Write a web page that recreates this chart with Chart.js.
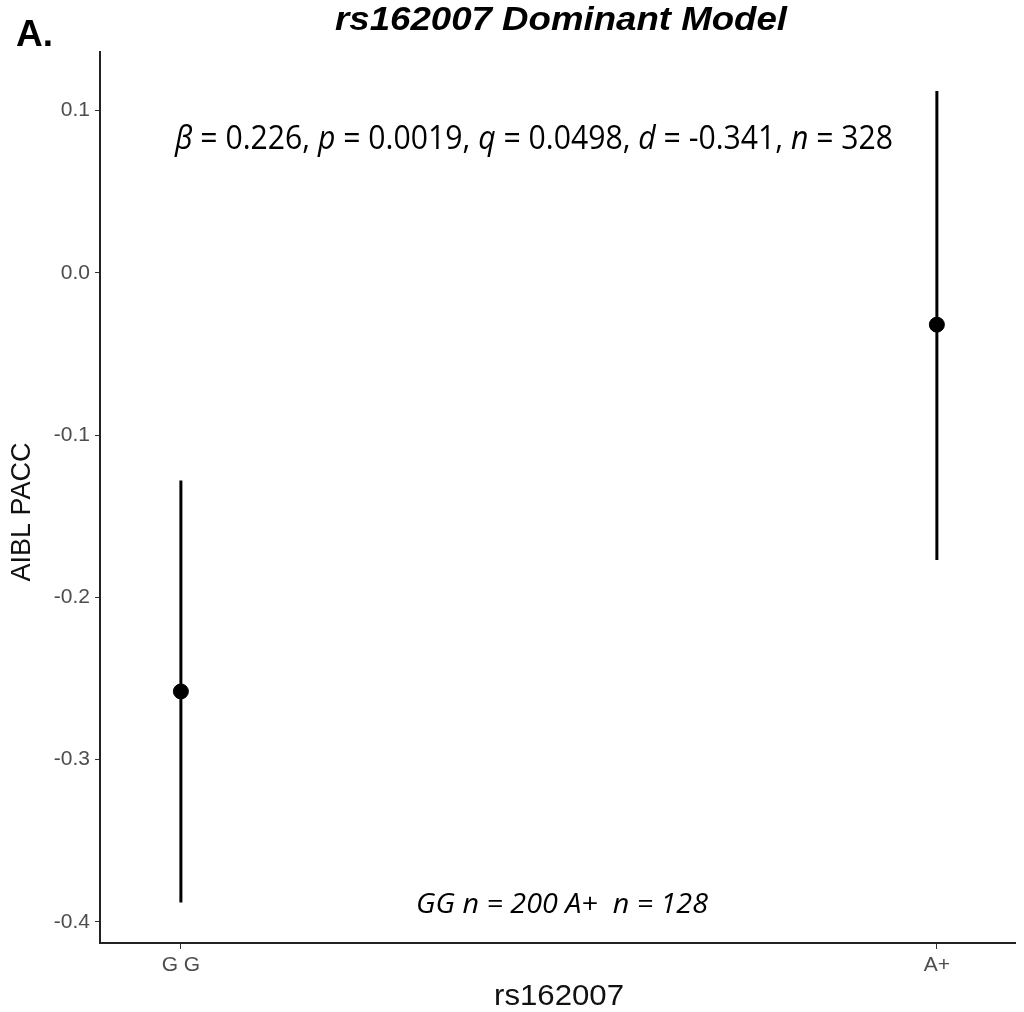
<!DOCTYPE html>
<html>
<head>
<meta charset="utf-8">
<script src="https://cdn.jsdelivr.net/npm/chart.js@4.4.0/dist/chart.umd.min.js"></script>
<style>
  html, body { margin: 0; padding: 0; background: #fff; }
  #wrap { width: 1024px; height: 1012px; }
</style>
</head>
<body>
<div id="wrap"><canvas id="chart" width="1024" height="1012"></canvas></div>
<script>
// data
const categories = ["G G", "A+"];
const means = [-0.258, -0.032];
const lower = [-0.388, -0.177];
const upper = [-0.128, 0.112];
const yTicks = [-0.4, -0.3, -0.2, -0.1, 0.0, 0.1];
const statParts = [
  ["β", true], [" = 0.226, ", false], ["p", true], [" = 0.0019, ", false],
  ["q", true], [" = 0.0498, ", false], ["d", true], [" = -0.341, ", false],
  ["n", true], [" = 328", false]
];
const countText = "GG n = 200 A+  n = 128";

const points = means.map((m, i) => ({ x: i, y: m }));

// draw text squeezed/stretched to a given width
function fitText(ctx, text, x, y, width) {
  const w = ctx.measureText(text).width;
  ctx.save();
  ctx.translate(x, y);
  ctx.scale(width / w, 1);
  ctx.fillText(text, 0, 0);
  ctx.restore();
}

// draws the vertical error bars and the text labels
const extras = {
  id: "extras",
  beforeDatasetsDraw(chart) {
    const { ctx, scales } = chart;
    ctx.save();
    ctx.strokeStyle = "#000";
    ctx.lineWidth = 3;
    for (let i = 0; i < means.length; i++) {
      const x = scales.x.getPixelForValue(i);
      ctx.beginPath();
      ctx.moveTo(x, scales.y.getPixelForValue(lower[i]));
      ctx.lineTo(x, scales.y.getPixelForValue(upper[i]));
      ctx.stroke();
    }
    ctx.restore();
  },
  afterDraw(chart) {
    const { ctx } = chart;
    ctx.save();
    ctx.fillStyle = "#000";
    ctx.textBaseline = "middle";
    ctx.textAlign = "left";

    // panel letter and title
    ctx.font = "bold 37px 'Liberation Sans', Arial, sans-serif";
    ctx.fillText("A.", 16, 36);
    ctx.font = "bold italic 33px 'Liberation Sans', Arial, sans-serif";
    fitText(ctx, "rs162007 Dominant Model", 335, 21, 452);

    // stats line, squeezed to the width seen in the figure
    const fam = "'Open Sans', 'DejaVu Sans', sans-serif";
    const size = 33;
    let total = 0;
    statParts.forEach(p => {
      ctx.font = (p[1] ? "italic " : "") + size + "px " + fam;
      total += ctx.measureText(p[0]).width;
    });
    ctx.translate(175, 140);
    ctx.scale(718 / total, 1);
    let x = 0;
    statParts.forEach(p => {
      ctx.font = (p[1] ? "italic " : "") + size + "px " + fam;
      ctx.fillText(p[0], x, 0);
      x += ctx.measureText(p[0]).width;
    });
    ctx.setTransform(1, 0, 0, 1, 0, 0);

    // group counts
    ctx.font = "italic 28px " + fam;
    fitText(ctx, countText, 416, 905, 292);

    // axis titles
    ctx.fillStyle = "#111";
    ctx.font = "29px 'Liberation Sans', Arial, sans-serif";
    fitText(ctx, "rs162007", 494, 997, 130);
    ctx.font = "27px 'Liberation Sans', Arial, sans-serif";
    ctx.textAlign = "center";
    ctx.translate(23, 512);
    ctx.rotate(-Math.PI / 2);
    ctx.fillText("AIBL PACC", 0, 0);
    ctx.restore();
  }
};

new Chart(document.getElementById("chart"), {
  type: "scatter",
  data: {
    datasets: [{
      data: points,
      backgroundColor: "#000",
      borderColor: "#000",
      pointRadius: 7.5,
      pointHoverRadius: 7.5
    }]
  },
  options: {
    responsive: false,
    animation: false,
    layout: { padding: { top: 52, right: 7, left: 0, bottom: 0 } },
    plugins: { legend: { display: false }, tooltip: { enabled: false } },
    scales: {
      x: {
        type: "linear",
        min: -0.107,
        max: 1.104,
        afterBuildTicks: s => { s.ticks = categories.map((c, i) => ({ value: i })); },
        afterFit: s => { s.height = 69; },
        grid: { drawOnChartArea: false, drawTicks: true, tickLength: 6, color: "#333" },
        border: { color: "#222", width: 2 },
        ticks: {
          color: "#4d4d4d",
          font: { size: 21, family: "'Liberation Sans', Arial, sans-serif" },
          padding: 4,
          maxRotation: 0,
          callback: v => categories[v]
        }
      },
      y: {
        min: -0.413,
        max: 0.136,
        afterBuildTicks: s => { s.ticks = yTicks.map(v => ({ value: v })); },
        afterFit: s => { s.width = 100; },
        grid: { drawOnChartArea: false, drawTicks: true, tickLength: 5, color: "#333" },
        border: { color: "#222", width: 2 },
        ticks: {
          color: "#4d4d4d",
          font: { size: 21, family: "'Liberation Sans', Arial, sans-serif" },
          padding: 5,
          callback: v => v.toFixed(1)
        }
      }
    }
  },
  plugins: [extras]
});
</script>
</body>
</html>
